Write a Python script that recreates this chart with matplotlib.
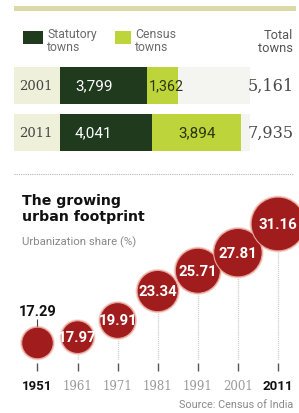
import matplotlib
matplotlib.use("Agg")
import matplotlib.pyplot as plt
import matplotlib.transforms as mtransforms
from matplotlib.patches import Rectangle

# town counts
years_towns = ["2001", "2011"]
statutory = [3799, 4041]
census = [1362, 3894]
totals = ["5,161", "7,935"]

# urbanization share
census_years = [1951, 1961, 1971, 1981, 1991, 2001, 2011]
urban_share = [17.29, 17.97, 19.91, 23.34, 25.71, 27.81, 31.16]

W, H = 299, 414
DARK = "#1f3a1d"
LIGHT = "#bdd43a"
RED = "#a11d1d"
NARROW = ["Roboto", "DejaVu Sans"]


def fx(x):
    return x / W


def fy(y):
    return 1 - y / H


fig = plt.figure(figsize=(W / 100, H / 100), dpi=100)
fig.patch.set_facecolor("white")

# top khaki strip
fig.patches.append(Rectangle((fx(14), fy(12)), fx(282), 5 / H, transform=fig.transFigure,
                             facecolor="#dcd9a6", edgecolor="none"))

# legend
fig.patches.append(Rectangle((fx(23), fy(45)), fx(20), 13 / H, transform=fig.transFigure,
                             facecolor=DARK, edgecolor="none"))
fig.text(fx(47), fy(41), "Statutory\ntowns", fontsize=8.8, color="#6a6a6a",
         va="center", ha="left", linespacing=0.95, family=NARROW)
fig.patches.append(Rectangle((fx(115), fy(45)), fx(16), 13 / H, transform=fig.transFigure,
                             facecolor=LIGHT, edgecolor="none"))
fig.text(fx(135), fy(41), "Census\ntowns", fontsize=8.8, color="#6a6a6a",
         va="center", ha="left", linespacing=0.95, family=NARROW)
fig.text(fx(293), fy(42), "Total\ntowns", fontsize=9.3, color="#555555",
         va="center", ha="right", linespacing=0.95, family=NARROW)

# stacked bars
axb = fig.add_axes([fx(60), fy(157), fx(181), 94 / H])
ypos = [0, 1]
axb.barh(ypos, statutory, height=0.79, color=DARK)
axb.barh(ypos, census, left=statutory, height=0.79, color=LIGHT)
axb.set_xlim(0, statutory[1] + census[1])
axb.set_ylim(1.5, -0.5)
axb.axis("off")
blend = mtransforms.blended_transform_factory(fig.transFigure, axb.transData)
for i, yr in enumerate(years_towns):
    # row backgrounds
    axb.add_patch(Rectangle((fx(14), i - 0.395), fx(46), 0.79, transform=blend,
                            facecolor="#eef0da", edgecolor="none", clip_on=False, zorder=0))
    axb.add_patch(Rectangle((fx(60), i - 0.395), fx(190), 0.79, transform=blend,
                            facecolor="#f4f4f1", edgecolor="none", clip_on=False, zorder=0))
    axb.text(fx(19), i, yr, transform=blend, fontsize=9.5, color="#444444",
             va="center", ha="left", family="DejaVu Serif")
    axb.text(fx(294), i, totals[i], transform=blend, fontsize=11.5, color="#4a4a4a",
             va="center", ha="right", family="DejaVu Serif")
    axb.text(650, i, f"{statutory[i]:,}", fontsize=11, color="white",
             va="center", ha="left", family=NARROW)
axb.text(statutory[0] + 70, 0, f"{census[0]:,}", fontsize=10.3, color="#2b3510",
         va="center", ha="left", family=NARROW)
axb.text(statutory[1] + census[1] / 2, 1, f"{census[1]:,}", fontsize=11, color="#2b3510",
         va="center", ha="center", family=NARROW)

# dotted separator
fig.lines.append(plt.Line2D([fx(14), fx(293)], [fy(175), fy(175)], transform=fig.transFigure,
                            color="#b5b5b5", lw=0.8, ls=(0, (1, 1))))

# title
fig.text(fx(22), fy(209), "The growing\nurban footprint", fontsize=10.2, fontweight="bold",
         color="#111111", va="center", ha="left", linespacing=1.1)
fig.text(fx(22), fy(242), "Urbanization share (%)", fontsize=8.2, color="#888888",
         va="center", ha="left", family=NARROW)

# bubbles
ax = fig.add_axes([0, 0, 1, 234 / H])
ax.set_xlim(1941.65, 2016.24)
ax.set_ylim(9.13, 36.4)
ax.axis("off")


def pyv(y):
    return 36.4 - (y - 180) * (36.4 - 9.13) / 234


ax.vlines(census_years, pyv(360), urban_share, colors="#c4c4c4", lw=1.0,
          linestyles=(0, (0.6, 0.8)), zorder=1)
ax.vlines(census_years, pyv(372), pyv(364), colors="#555555", lw=1.0, zorder=1)
sizes_pt = [((0.8 * v + 2) * 2 * 0.72) ** 2 for v in urban_share]
halo_pt = [((0.8 * v + 3.5) * 2 * 0.72) ** 2 for v in urban_share]
ax.scatter(census_years, urban_share, s=halo_pt, color="#f6d9d2", edgecolors="none", zorder=2)
ax.scatter(census_years, urban_share, s=sizes_pt, color=RED, edgecolors="#e7a79c",
           linewidths=0.8, zorder=3)
for yr, v in zip(census_years[1:], urban_share[1:]):
    ax.text(yr, v, f"{v:.2f}", fontsize=10.8, fontweight="bold", color="white",
            ha="center", va="center", family=NARROW, zorder=4)
ax.text(census_years[0], pyv(312), f"{urban_share[0]:.2f}", fontsize=10.5, fontweight="bold",
        color="#111111", ha="center", va="center", family=NARROW, zorder=4)
ax.vlines([census_years[0]], urban_share[0], pyv(320), colors="#444444", lw=0.8, zorder=2)

xblend = ax.get_xaxis_transform()
for yr in census_years:
    bold = yr in (1951, 2011)
    ax.text(yr, (H - 387) / 234, str(yr), transform=xblend,
            fontsize=9.5 if bold else 8.5, fontweight="bold" if bold else "normal",
            color="#111111" if bold else "#9a9a9a", ha="center", va="center",
            family=NARROW if bold else "DejaVu Serif")

fig.text(fx(293), fy(405), "Source: Census of India", fontsize=7.8, color="#8a8a8a",
         ha="right", va="center", family=NARROW)

fig.savefig("out.png", dpi=100)
